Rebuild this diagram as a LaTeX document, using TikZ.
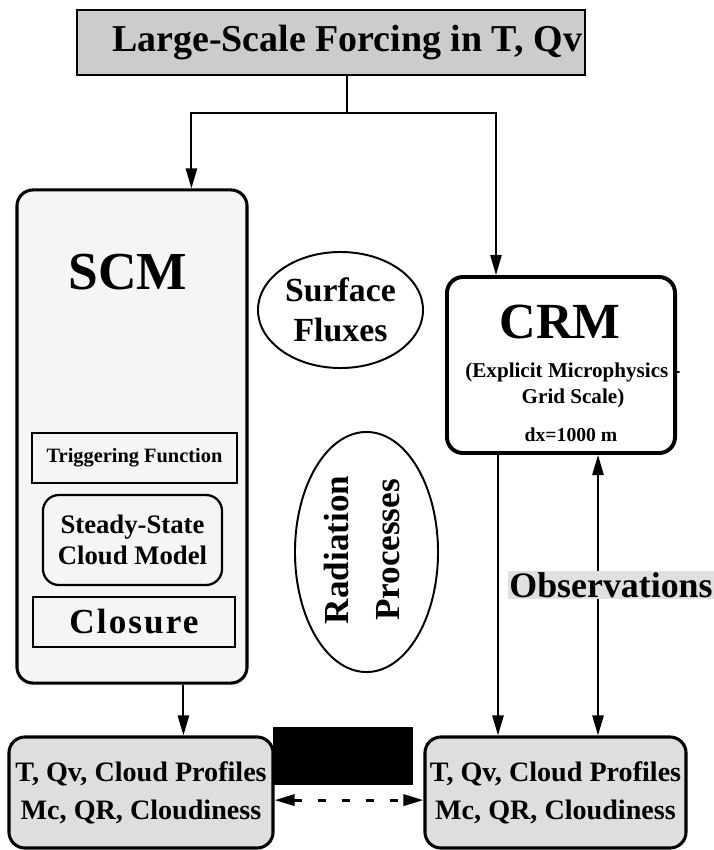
\documentclass[tikz,border=0pt]{standalone}
\usepackage{fontspec}
\setmainfont{Liberation Serif}
\usepackage{tikz}
\usetikzlibrary{arrows.meta,shapes.geometric,calc}
\definecolor{headG}{gray}{0.80}
\definecolor{outG}{gray}{0.87}
\definecolor{scmG}{gray}{0.96}
\definecolor{obsG}{gray}{0.88}

\begin{document}
\begin{tikzpicture}[x=0.025cm, y=-0.025cm, font=\bfseries, line width=1.4pt,
    >={Triangle[length=5mm, width=2.8mm]}]
  \useasboundingbox (0,0) rectangle (713,850);
  \tikzstyle{box}=[draw, rectangle, line width=2pt, inner sep=0pt]
  \tikzstyle{rbox}=[box, rounded corners=4mm]
  \tikzstyle{blob}=[draw, ellipse, line width=1.4pt, inner sep=0pt, align=center]

  % forcing at the top
  \node[box, fill=headG, minimum width=12.7cm, minimum height=1.625cm,
        font=\fontsize{27}{30}\selectfont\bfseries] (force) at (331,42.5) {\hspace*{0.8cm}Large-Scale Forcing in T, Qv};

  % single column model
  \node[rbox, fill=scmG, line width=2.2pt, minimum width=5.75cm, minimum height=12.325cm] (scm) at (132,436.5) {};
  \node[font=\fontsize{38}{40}\selectfont\bfseries] (scmT) at (128,272) {SCM};
  \node[box, line width=1.6pt, minimum width=5.125cm, minimum height=1.25cm,
        font=\fontsize{14.5}{16}\selectfont\bfseries] (trig) at (134.5,458) {Triggering Function};
  \node[rbox, line width=1.6pt, minimum width=4.475cm, minimum height=2.25cm, align=center,
        font=\fontsize{19}{21.5}\selectfont\bfseries] (cloud) at (132.5,540) {Steady-State\\Cloud Model};
  \node[box, line width=1.8pt, minimum width=5.05cm, minimum height=1.25cm,
        font=\fontsize{25}{28}\selectfont\bfseries\addfontfeature{LetterSpace=6}] (clos) at (134,622) {Closure};

  % cloud resolving model
  \node[rbox, line width=2.8pt, minimum width=5.7cm, minimum height=4.4cm] (crm) at (561,365) {};
  \node[font=\fontsize{36}{40}\selectfont\bfseries] (crmT) at (560,322) {CRM};
  \node[align=center, font=\fontsize{15}{18.5}\selectfont\bfseries] (micro) at (573,385)
        {(Explicit Microphysics -\\Grid Scale)};
  \node[font=\fontsize{14}{16}\selectfont\bfseries] (dx) at (571,435) {dx=1000 m};

  % physics in between
  \node[blob, minimum width=4.125cm, minimum height=2.9cm,
        font=\fontsize{24}{28}\selectfont\bfseries] (surf) at (340.5,310) {Surface\\Fluxes};
  \node[blob, minimum width=3.575cm, minimum height=6cm] (rad) at (366.5,552) {};
  \node[rotate=90, align=center, font=\fontsize{25}{36}\selectfont\bfseries] (radT) at (362,550)
        {Radiation\\Processes};

  % outputs
  \node[rbox, fill=outG, line width=2.2pt, minimum width=6.6cm, minimum height=2.775cm, align=center,
        font=\fontsize{20}{27}\selectfont\bfseries] (outS) at (141,792.5) {T, Qv, Cloud Profiles\\Mc, QR, Cloudiness};
  \node[rbox, fill=outG, line width=2.2pt, minimum width=6.525cm, minimum height=2.775cm, align=center,
        font=\fontsize{20}{27}\selectfont\bfseries] (outC) at (555.5,792.5) {T, Qv, Cloud Profiles\\Mc, QR, Cloudiness};
  \node[fill=black, minimum width=3.5cm, minimum height=1.45cm, inner sep=0pt] (blot) at (343,756) {};

  % connectors
  \coordinate (split) at (347,113);
  \path (scm.north west) ++(176,0) coordinate (scmIn);
  \path (crm.north west) ++(51,0) coordinate (crmIn);
  \path (scm.south west) ++(168,0) coordinate (scmOut);
  \path (crm.south west) ++(53,0) coordinate (crmOut);
  \path (crm.south west) ++(153,0) coordinate (obsUp);
  \draw (force.south -| split) -- (split);
  \draw[->] (split) -| (scmIn);
  \draw[->] (split) -| (crmIn);
  \draw[->] (scmOut) -- (outS.north -| scmOut);
  \draw[->] (crmOut) -- (outC.north -| crmOut);
  \draw[<->] (obsUp) -- (outC.north -| obsUp);
  \draw[<->, line width=2pt, dash pattern=on 6pt off 11pt] ([yshift=-0.19cm]outS.east) -- ([yshift=-0.19cm]outC.west);

  \node[fill=obsG, inner sep=1pt, font=\fontsize{25.5}{28}\selectfont\bfseries] (obs) at (611,585) {Observations};
\end{tikzpicture}
\end{document}
